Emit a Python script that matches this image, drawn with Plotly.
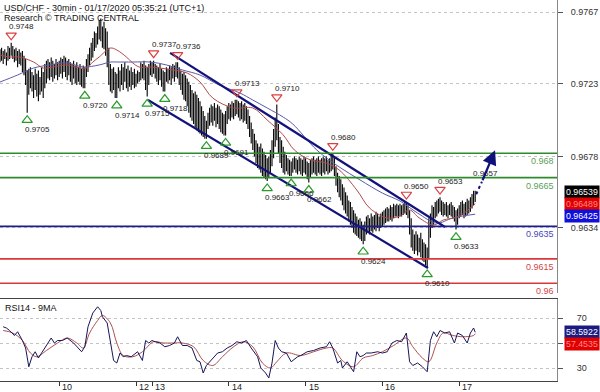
import plotly.graph_objects as go

W, H = 600, 392
PR = 557            # right edge of plotting area (px)
MAIN_T, MAIN_B = 0, 293
RSI_T, RSI_B = 299, 381
BAR_PX = 1.6
PRICE_TOP, PRICE_BOT = 0.977439, 0.959397
RSI_TOP, RSI_BOT = 85.2, 19.6
FONT = "Liberation Sans, Arial, sans-serif"

title_1 = "USD/CHF - 30min - 01/17/2020 05:35:21 (UTC+1)"
title_2 = "Research \u00a9 TRADING CENTRAL"
rsi_title = "RSI14 - 9MA"

# ---- 30 min bars (high / low) ----
high = [0.9744,0.9745,0.9743,0.9744,0.9742,0.9746,0.9745,0.9748,0.9746,0.9744,
        0.9745,0.9743,0.9744,0.9742,0.9743,0.9740,0.9738,0.9731,0.9732,0.9733,
        0.9730,0.9728,0.9732,0.9729,0.9731,0.9727,0.9733,0.9730,0.9735,0.9737,
        0.9738,0.9736,0.9739,0.9737,0.9735,0.9738,0.9736,0.9737,0.9739,0.9738,
        0.9740,0.9739,0.9737,0.9738,0.9736,0.9735,0.9737,0.9734,0.9736,0.9733,
        0.9735,0.9732,0.9734,0.9733,0.9738,0.9741,0.9745,0.9748,0.9751,0.9755,
        0.9754,0.9758,0.9762,0.9763,0.9758,0.9761,0.9757,0.9755,0.9745,0.9735,
        0.9732,0.9733,0.9730,0.9729,0.9733,0.9731,0.9735,0.9733,0.9736,0.9732,
        0.9734,0.9731,0.9733,0.9730,0.9732,0.9729,0.9731,0.9730,0.9736,0.9735,
        0.9737,0.9734,0.9733,0.9735,0.9737,0.9736,0.9737,0.9735,0.9734,0.9733,
        0.9735,0.9732,0.9731,0.9730,0.9733,0.9732,0.9734,0.9733,0.9735,0.9734,
        0.9736,0.9736,0.9733,0.9731,0.9729,0.9730,0.9728,0.9726,0.9724,0.9722,
        0.9719,0.9717,0.9718,0.9716,0.9714,0.9712,0.9709,0.9706,0.9703,0.9700,
        0.9705,0.9708,0.9710,0.9709,0.9711,0.9708,0.9710,0.9709,0.9707,0.9705,
        0.9704,0.9706,0.9709,0.9711,0.9710,0.9712,0.9711,0.9713,0.9713,0.9712,
        0.9711,0.9712,0.9710,0.9711,0.9709,0.9707,0.9703,0.9699,0.9695,0.9692,
        0.9688,0.9686,0.9684,0.9686,0.9683,0.9681,0.9679,0.9677,0.9678,0.9682,
        0.9688,0.9695,0.9702,0.9710,0.9698,0.9690,0.9688,0.9684,0.9681,0.9679,
        0.9677,0.9676,0.9675,0.9677,0.9678,0.9677,0.9676,0.9678,0.9677,0.9676,
        0.9678,0.9677,0.9675,0.9674,0.9676,0.9677,0.9678,0.9676,0.9677,0.9678,
        0.9676,0.9677,0.9678,0.9677,0.9678,0.9676,0.9677,0.9679,0.9680,0.9678,
        0.9672,0.9668,0.9666,0.9664,0.9661,0.9659,0.9656,0.9654,0.9651,0.9650,
        0.9647,0.9645,0.9643,0.9641,0.9639,0.9640,0.9638,0.9636,0.9638,0.9641,
        0.9642,0.9640,0.9643,0.9641,0.9642,0.9644,0.9643,0.9641,0.9643,0.9644,
        0.9645,0.9646,0.9647,0.9646,0.9648,0.9647,0.9649,0.9648,0.9649,0.9648,
        0.9649,0.9648,0.9649,0.9650,0.9650,0.9648,0.9645,0.9640,0.9633,0.9630,
        0.9632,0.9630,0.9628,0.9631,0.9627,0.9625,0.9624,0.9622,0.9640,0.9643,
        0.9648,0.9647,0.9650,0.9651,0.9652,0.9653,0.9651,0.9650,0.9649,0.9650,
        0.9648,0.9649,0.9650,0.9648,0.9647,0.9645,0.9646,0.9648,0.9650,0.9651,
        0.9649,0.9650,0.9652,0.9651,0.9653,0.9655,0.9657,0.9657]
low = [0.9736,0.9737,0.9735,0.9738,0.9734,0.9737,0.9738,0.9740,0.9738,0.9736,
       0.9737,0.9733,0.9735,0.9734,0.9730,0.9728,0.9722,0.9705,0.9716,0.9720,
       0.9718,0.9714,0.9719,0.9715,0.9712,0.9716,0.9718,0.9714,0.9720,0.9723,
       0.9726,0.9725,0.9727,0.9724,0.9726,0.9728,0.9725,0.9727,0.9729,0.9726,
       0.9730,0.9727,0.9725,0.9728,0.9724,0.9722,0.9726,0.9723,0.9722,0.9724,
       0.9722,0.9721,0.9720,0.9720,0.9727,0.9730,0.9734,0.9737,0.9739,0.9743,
       0.9745,0.9747,0.9750,0.9749,0.9745,0.9744,0.9740,0.9733,0.9722,0.9718,
       0.9717,0.9719,0.9714,0.9714,0.9720,0.9718,0.9722,0.9719,0.9724,0.9720,
       0.9718,0.9721,0.9719,0.9722,0.9720,0.9721,0.9723,0.9724,0.9725,0.9726,
       0.9725,0.9719,0.9715,0.9722,0.9728,0.9727,0.9729,0.9726,0.9724,0.9722,
       0.9725,0.9721,0.9718,0.9718,0.9724,0.9723,0.9725,0.9722,0.9726,0.9724,
       0.9727,0.9726,0.9722,0.9719,0.9716,0.9713,0.9712,0.9709,0.9705,0.9702,
       0.9700,0.9698,0.9696,0.9694,0.9693,0.9692,0.9691,0.9690,0.9689,0.9689,
       0.9695,0.9697,0.9699,0.9697,0.9700,0.9696,0.9698,0.9695,0.9693,0.9692,
       0.9691,0.9691,0.9698,0.9701,0.9700,0.9702,0.9701,0.9703,0.9704,0.9702,
       0.9700,0.9701,0.9699,0.9700,0.9698,0.9695,0.9690,0.9686,0.9682,0.9678,
       0.9674,0.9671,0.9670,0.9668,0.9666,0.9665,0.9664,0.9663,0.9665,0.9668,
       0.9672,0.9677,0.9684,0.9688,0.9680,0.9674,0.9671,0.9668,0.9667,0.9669,
       0.9667,0.9666,0.9666,0.9668,0.9670,0.9668,0.9667,0.9669,0.9667,0.9666,
       0.9668,0.9667,0.9664,0.9662,0.9665,0.9667,0.9668,0.9667,0.9666,0.9668,
       0.9667,0.9666,0.9668,0.9667,0.9669,0.9667,0.9668,0.9669,0.9670,0.9666,
       0.9660,0.9656,0.9653,0.9651,0.9648,0.9645,0.9643,0.9641,0.9638,0.9636,
       0.9634,0.9631,0.9630,0.9629,0.9628,0.9627,0.9626,0.9624,0.9626,0.9630,
       0.9631,0.9630,0.9632,0.9631,0.9633,0.9632,0.9634,0.9632,0.9634,0.9635,
       0.9636,0.9637,0.9638,0.9638,0.9639,0.9638,0.9640,0.9641,0.9641,0.9640,
       0.9641,0.9641,0.9642,0.9643,0.9642,0.9640,0.9630,0.9622,0.9620,0.9618,
       0.9620,0.9617,0.9619,0.9616,0.9614,0.9613,0.9611,0.9610,0.9615,0.9628,
       0.9634,0.9636,0.9640,0.9641,0.9643,0.9644,0.9642,0.9641,0.9642,0.9641,
       0.9640,0.9642,0.9641,0.9640,0.9638,0.9633,0.9636,0.9640,0.9641,0.9642,
       0.9640,0.9641,0.9642,0.9643,0.9644,0.9646,0.9648,0.9650]

# ---- moving averages on price (bar index, value) ----
red_ma_bar = [0,6,12,21,27,33,42,50,54,58,62,69,73,79,83,87,94,100,108,117,
              125,133,146,158,167,177,184,194,204,212,223,231,242,250,256,262,271,277,286,297]
red_ma_val = [0.97405,0.97393,0.97393,0.97362,0.97325,0.97331,0.97344,0.97325,0.97325,0.97362,
              0.97393,0.97448,0.97436,0.97393,0.97356,0.97331,0.97331,0.97325,0.97313,0.97294,
              0.97239,0.97140,0.97079,0.97079,0.97005,0.96913,0.96820,0.96759,0.96740,0.96697,
              0.96574,0.96463,0.96402,0.96414,0.96451,0.96402,0.96358,0.96389,0.96408,0.96489]
blue_ma_bar = [0,11,21,31,42,52,62,69,73,83,94,104,114,125,137,150,158,167,177,183,
               198,212,225,239,250,261,273,283,297]
blue_ma_val = [0.97239,0.97282,0.97325,0.97344,0.97356,0.97331,0.97344,0.97362,0.97362,0.97362,
               0.97362,0.97344,0.97313,0.97282,0.97220,0.97171,0.97128,0.97079,0.97023,0.96980,
               0.96820,0.96716,0.96636,0.96555,0.96506,0.96432,0.96370,0.96402,0.96425]

# ---- swing highs / lows ----
hi_bar = [7, 96, 111, 148, 173, 208, 254, 275]
hi_price = [0.9748, 0.9737, 0.9736, 0.9713, 0.9710, 0.9680, 0.9650, 0.9653]
lo_bar = [17, 53, 73, 92, 103, 129, 141, 167, 182, 193, 227, 267, 285]
lo_price = [0.9705, 0.9720, 0.9714, 0.9715, 0.9718, 0.9689, 0.9691, 0.9663, 0.9666,
            0.9662, 0.9624, 0.9610, 0.9633]
extra_label_bar = [297]
extra_label_price = [0.9657]

# ---- channel ----
chan_up_x = [106.3, 278.1]
chan_up_y = [0.97418, 0.96346]
chan_lo_x = [92.5, 267.5]
chan_lo_y = [0.97128, 0.96094]

# ---- key levels ----
levels = [0.9680, 0.9665, 0.9635, 0.9615, 0.9600]
level_labels = ["0.968", "0.9665", "0.9635", "0.9615", "0.96"]
level_colors = ["#2c8c2c", "#2c8c2c", "#1c1c8c", "#d83838", "#d83838"]
level_text_colors = ["#5aa05a", "#5aa05a", "#4848b8", "#d04848", "#d04848"]

# ---- forecast arrow ----
arrow_dot_x = [297.6, 301.2]
arrow_dot_y = [0.96548, 0.96625]
arrow_from = [301.2, 0.96625]
arrow_to = [309.4, 0.96818]

# ---- price axis ----
price_ticks = [0.9767, 0.9723, 0.9678, 0.9634]
last_price = 0.96539
last_red_ma = 0.96489
last_blue_ma = 0.96425

# ---- RSI ----
rsi_bar = [2,4,6,9,11,14,16,18,20,22,24,26,28,30,32,34,36,39,42,46,
           49,51,53,55,58,61,63,64,67,69,71,73,75,77,79,82,86,89,91,93,
           95,97,100,103,106,109,111,114,117,120,123,125,127,129,132,136,139,142,145,148,
           151,154,157,161,163,166,168,170,172,174,176,179,182,186,188,192,196,200,204,206,
           208,211,213,214,217,219,221,223,225,227,229,232,236,239,242,245,248,251,254,256,
           258,261,264,267,269,271,273,275,278,281,284,286,289,292,294,296,297]
rsi_val = [63,62,60,56,59,52,46,31,39,43,38,42,46,50,54,50,52,52,54,50,
           46,43,47,63,74,79,76,71,66,52,36,34,42,39,40,39,43,36,52,50,
           52,51,50,47,48,50,55,48,48,46,36,35,26,32,36,42,43,46,48,51,
           50,52,46,39,30,26,22,34,52,46,43,42,35,39,40,43,44,46,47,51,
           46,34,36,30,35,31,27,43,39,40,42,42,43,42,43,50,52,51,58,35,
           32,34,31,27,52,59,55,60,58,59,50,58,56,50,58,62,58.59]
rsi_ma_bar = [2,8,14,19,23,29,36,42,48,52,56,61,64,69,73,77,83,89,96,102,
              108,114,121,127,133,139,146,152,158,164,169,173,179,188,196,204,208,214,221,227,
              233,239,246,254,258,264,268,273,277,283,289,296,297]
rsi_ma_val = [60,58,52,42,39,44,50,54,50,46,58,68,72,66,50,40,39,43,51,50,
              50,50,47,36,32,39,47,51,47,34,30,35,42,40,43,46,46,36,31,38,
              40,43,48,54,47,38,35,50,58,56,55,56,57.45]
rsi_ticks = [30, 50, 70]
rsi_tick_text = ["30", "", "70"]
last_rsi = 58.5922
last_rsi_ma = 57.4535

# ---- time axis ----
day_ticks = [37, 85, 95, 143, 191, 239, 287]
day_labels = ["10", "12", "13", "14", "15", "16", "17"]

# =====================================================================
px_per_price = (MAIN_B - MAIN_T) / (PRICE_TOP - PRICE_BOT)
mark_off = 7.5 / px_per_price
x_max = PR / BAR_PX

fig = go.Figure()

# price bars
bx, by = [], []
for i, (h, l) in enumerate(zip(high, low)):
    bx += [i, i, None]
    by += [l, h, None]
fig.add_trace(go.Scatter(x=bx, y=by, mode="lines", line=dict(color="#000000", width=1.1),
                         hoverinfo="skip", xaxis="x", yaxis="y"))

# MAs
fig.add_trace(go.Scatter(x=blue_ma_bar, y=blue_ma_val, mode="lines", line=dict(color="#5a5aa8", width=1, shape="spline"),
                         xaxis="x", yaxis="y"))
fig.add_trace(go.Scatter(x=red_ma_bar, y=red_ma_val, mode="lines", line=dict(color="#b04a4a", width=1, shape="spline"),
                         xaxis="x", yaxis="y"))

# channel
for cx, cy in [(chan_up_x, chan_up_y), (chan_lo_x, chan_lo_y)]:
    fig.add_trace(go.Scatter(x=cx, y=cy, mode="lines", line=dict(color="#12127a", width=2.2),
                             xaxis="x", yaxis="y"))

# dotted start of forecast arrow
fig.add_trace(go.Scatter(x=arrow_dot_x, y=arrow_dot_y, mode="lines",
                         line=dict(color="#10107a", width=2, dash="dot"), xaxis="x", yaxis="y"))

# swing markers
fig.add_trace(go.Scatter(x=hi_bar, y=[p + mark_off for p in hi_price], mode="markers",
                         marker=dict(symbol="triangle-down-open", size=9, color="#d84040",
                                     line=dict(width=1.2, color="#d84040")),
                         xaxis="x", yaxis="y"))
fig.add_trace(go.Scatter(x=lo_bar, y=[p - mark_off for p in lo_price], mode="markers",
                         marker=dict(symbol="triangle-up-open", size=9, color="#2a9a2a",
                                     line=dict(width=1.2, color="#2a9a2a")),
                         xaxis="x", yaxis="y"))

# pointers for value boxes
fig.add_trace(go.Scatter(x=[(PR + 4) / BAR_PX], y=[last_red_ma], mode="markers", cliponaxis=False,
                         marker=dict(symbol="triangle-left", size=10, color="#e00000"),
                         xaxis="x", yaxis="y"))

# RSI
fig.add_trace(go.Scatter(x=rsi_ma_bar, y=rsi_ma_val, mode="lines", line=dict(color="#b05050", width=1, shape="spline"),
                         xaxis="x2", yaxis="y2"))
fig.add_trace(go.Scatter(x=rsi_bar, y=rsi_val, mode="lines", line=dict(color="#16165a", width=1),
                         xaxis="x2", yaxis="y2"))
fig.add_trace(go.Scatter(x=[(PR + 4) / BAR_PX], y=[last_rsi], mode="markers", cliponaxis=False,
                         marker=dict(symbol="triangle-left", size=10, color="#1a1a80"),
                         xaxis="x2", yaxis="y2"))

shapes = []
for lv, c in zip(levels, level_colors):
    shapes.append(dict(type="line", xref="x domain", x0=0, x1=1, yref="y", y0=lv, y1=lv,
                       line=dict(color=c, width=1.6), layer="above"))

ann = []
ann.append(dict(text=title_1, xref="paper", yref="paper", x=2 / W, y=1 - 0.5 / H, xanchor="left",
                yanchor="top", showarrow=False, font=dict(size=9, color="#111111", family=FONT)))
ann.append(dict(text=title_2, xref="paper", yref="paper", x=2 / W, y=1 - 10.5 / H, xanchor="left",
                yanchor="top", showarrow=False, font=dict(size=9, color="#111111", family=FONT)))
ann.append(dict(text=rsi_title, xref="paper", yref="paper", x=3 / W, y=1 - 301 / H, xanchor="left",
                yanchor="top", showarrow=False, font=dict(size=9, color="#111111", family=FONT)))

for b, p in zip(hi_bar, hi_price):
    ann.append(dict(text=f"{p:.4f}", x=b, y=p, xref="x", yref="y", xanchor="left", yanchor="middle",
                    xshift=-4, yshift=16, showarrow=False, font=dict(size=8, color="#222222", family=FONT)))
for b, p in zip(lo_bar, lo_price):
    ann.append(dict(text=f"{p:.4f}", x=b, y=p, xref="x", yref="y", xanchor="left", yanchor="middle",
                    xshift=-4, yshift=-17, showarrow=False, font=dict(size=8, color="#222222", family=FONT)))
for b, p in zip(extra_label_bar, extra_label_price):
    ann.append(dict(text=f"{p:.4f}", x=b, y=p, xref="x", yref="y", xanchor="left", yanchor="middle",
                    xshift=-4, yshift=17, showarrow=False, font=dict(size=8, color="#222222", family=FONT)))

for lv, t, c in zip(levels, level_labels, level_text_colors):
    ann.append(dict(text=t, xref="x domain", x=1, y=lv, yref="y", xanchor="right", yanchor="top",
                    xshift=-1, yshift=-1, showarrow=False, font=dict(size=9, color=c, family=FONT)))

ann.append(dict(x=arrow_to[0], y=arrow_to[1], ax=arrow_from[0], ay=arrow_from[1], xref="x", yref="y",
                axref="x", ayref="y", text="", showarrow=True, arrowhead=2, arrowsize=1.3,
                arrowwidth=2.2, arrowcolor="#10107a"))

# value boxes
def box(val, txt, yref, bg, fg, yshift):
    return dict(text=txt, xref="paper", x=564 / W, xanchor="left", y=val, yref=yref, yanchor="middle",
                yshift=yshift, showarrow=False, bgcolor=bg, borderpad=1,
                font=dict(size=8.8, color=fg, family=FONT))

ann.append(box(last_price, f"{last_price:.5f}", "y", "#000000", "#ffffff", 4))
ann.append(box(last_red_ma, f"{last_red_ma:.5f}", "y", "#e00000", "#ff8a8a", 0))
ann.append(box(last_blue_ma, f"{last_blue_ma:.5f}", "y", "#1010d8", "#ffffff", -2))
ann.append(box(last_rsi, f"{last_rsi:.4f}", "y2", "#1a1a80", "#ffffff", 0))
ann.append(box(last_rsi_ma, f"{last_rsi_ma:.4f}", "y2", "#e00000", "#ff8a8a", -10))

for d, t in zip(day_ticks, day_labels):
    ann.append(dict(text=t, x=d, xref="x2", y=1 - 387 / H, yref="paper", xanchor="left", yanchor="middle",
                    xshift=1, showarrow=False, font=dict(size=9, color="#222222", family=FONT)))

fig.update_layout(
    width=W, height=H, autosize=False,
    margin=dict(l=0, r=0, t=0, b=0),
    paper_bgcolor="white", plot_bgcolor="white",
    showlegend=False,
    shapes=shapes, annotations=ann,
    font=dict(family=FONT, size=9, color="#333333"),
    xaxis=dict(domain=[0, PR / W], range=[0, x_max], anchor="y", showgrid=False, zeroline=False,
               showticklabels=False, showline=False, ticks=""),
    xaxis2=dict(domain=[0, PR / W], range=[0, x_max], anchor="y2", matches="x", showgrid=False,
                zeroline=False, showticklabels=False, tickvals=day_ticks, ticks="outside", ticklen=4,
                tickcolor="#333333", showline=True, mirror=True, linecolor="#444444", linewidth=1),
    yaxis=dict(domain=[1 - MAIN_B / H, 1 - MAIN_T / H], range=[PRICE_BOT, PRICE_TOP], anchor="x",
               side="right", tickvals=price_ticks, ticktext=[f"{v:.4f}" for v in price_ticks],
               ticks="outside", ticklen=5, tickcolor="#555555", showgrid=True, gridcolor="#c4c4c4",
               griddash="dot", zeroline=False, showline=True, linecolor="#888888", linewidth=1,
               tickfont=dict(size=9, color="#333333", family=FONT), ticklabelstandoff=6),
    yaxis2=dict(domain=[1 - RSI_B / H, 1 - RSI_T / H], range=[RSI_BOT, RSI_TOP], anchor="x2",
                side="right", tickvals=rsi_ticks, ticktext=rsi_tick_text, ticks="outside", ticklen=5,
                tickcolor="#555555", showgrid=True, gridcolor="#c4c4c4", griddash="dot", zeroline=False,
                showline=True, linecolor="#888888", linewidth=1,
                tickfont=dict(size=9, color="#333333", family=FONT), ticklabelstandoff=12),
)

fig.write_html("out.html")
